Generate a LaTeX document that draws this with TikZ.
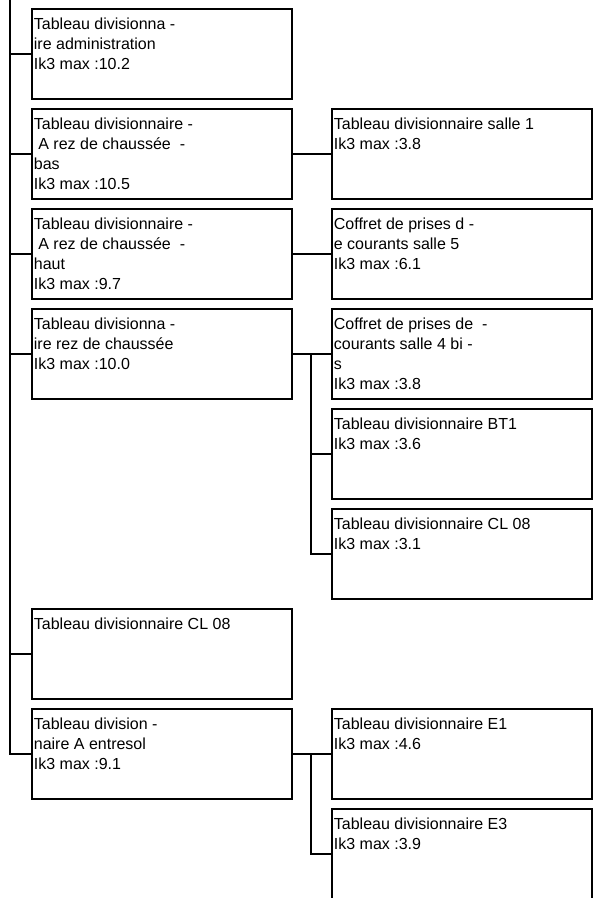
\documentclass[tikz,border=0pt]{standalone}
\usepackage{fontspec}
\setmainfont{Liberation Sans}
\newcommand{\celltext}[1]{\parbox[t][90pt][t]{256pt}{\vspace*{7pt}\strut#1}}
\newcommand{\ind}{\hspace*{0.28em}}

\begin{document}
\begin{tikzpicture}[x=1pt,y=1pt,
    box/.style={draw,line width=1.8pt,anchor=north west,inner xsep=2pt,inner ysep=0pt,
      font=\fontsize{16}{20}\selectfont},
    wire/.style={line width=1.8pt}]
  \useasboundingbox (0,0) rectangle (597,-898);
  \node[box] (L1) at (31,-8)   {\celltext{Tableau divisionna -\\ire administration\\Ik3 max :10.2}};
  \node[box] (L2) at (31,-108) {\celltext{Tableau divisionnaire -\\\ind A rez de chaussée \ -\\bas\\Ik3 max :10.5}};
  \node[box] (L3) at (31,-208) {\celltext{Tableau divisionnaire -\\\ind A rez de chaussée \ -\\haut\\Ik3 max :9.7}};
  \node[box] (L4) at (31,-308) {\celltext{Tableau divisionna -\\ire rez de chaussée\\Ik3 max :10.0}};
  \node[box] (L5) at (31,-608) {\celltext{Tableau divisionnaire CL 08}};
  \node[box] (L6) at (31,-708) {\celltext{Tableau division -\\naire A entresol\\Ik3 max :9.1}};
  \node[box] (R1) at (331,-108) {\celltext{Tableau divisionnaire salle 1\\Ik3 max :3.8}};
  \node[box] (R2) at (331,-208) {\celltext{Coffret de prises d -\\e courants salle 5\\Ik3 max :6.1}};
  \node[box] (R3) at (331,-308) {\celltext{Coffret de prises de \ -\\courants salle 4 bi -\\s\\Ik3 max :3.8}};
  \node[box] (R4) at (331,-408) {\celltext{Tableau divisionnaire BT1\\Ik3 max :3.6}};
  \node[box] (R5) at (331,-508) {\celltext{Tableau divisionnaire CL 08\\Ik3 max :3.1}};
  \node[box] (R6) at (331,-708) {\celltext{Tableau divisionnaire E1\\Ik3 max :4.6}};
  \node[box] (R7) at (331,-808) {\celltext{Tableau divisionnaire E3\\Ik3 max :3.9}};
  \coordinate (top) at (10,0);
  \draw[wire] (top) |- (L6.west);
  \foreach \n in {L1,L2,L3,L4,L5}
    \draw[wire] (top |- \n.west) -- (\n.west);
  \draw[wire] (L2.east) -- (R1.west);
  \draw[wire] (L3.east) -- (R2.west);
  \draw[wire] (L4.east) -- (R3.west);
  \coordinate (j4) at (311,0 |- L4.east);
  \draw[wire] (j4) |- (R4.west);
  \draw[wire] (j4) |- (R5.west);
  \draw[wire] (L6.east) -- (R6.west);
  \coordinate (j6) at (311,0 |- L6.east);
  \draw[wire] (j6) |- (R7.west);
\end{tikzpicture}
\end{document}
